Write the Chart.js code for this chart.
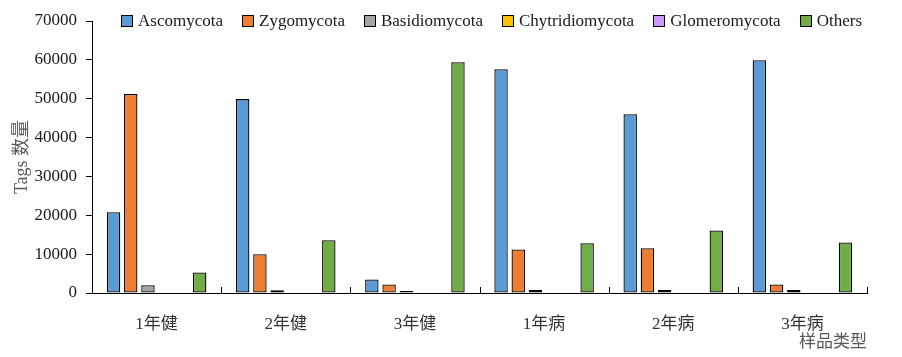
<!DOCTYPE html>
<html><head><meta charset="utf-8">
<script src="https://cdn.jsdelivr.net/npm/chart.js@4.4.1/dist/chart.umd.min.js"></script>
<style>html,body{margin:0;padding:0;background:#fff}#wrap{width:902px;height:357px;position:relative}</style>
</head><body><div id="wrap"><canvas id="c" width="902" height="357"></canvas></div>
<script>
const categories = ['1年健', '2年健', '3年健', '1年病', '2年病', '3年病'];
const seriesNames = ['Ascomycota', 'Zygomycota', 'Basidiomycota', 'Chytridiomycota', 'Glomeromycota', 'Others'];
const ascomycota = [20800, 49900, 3500, 57600, 46000, 59900];
const zygomycota = [51200, 10000, 2200, 11200, 11500, 2200];
const basidiomycota = [2000, 700, 500, 750, 750, 750];
const chytridiomycota = [0, 0, 0, 0, 0, 0];
const glomeromycota = [0, 0, 0, 0, 0, 0];
const others = [5300, 13600, 59400, 12800, 16100, 13000];
const yTickValues = [0, 10000, 20000, 30000, 40000, 50000, 60000, 70000];
const yTitle = 'Tags 数量';
const xTitle = '样品类型';

const colors = ['#5B9BD5', '#ED7D31', '#A5A5A5', '#FFC000', '#CC99FF', '#70AD47'];
const seriesValues = [ascomycota, zygomycota, basidiomycota, chytridiomycota, glomeromycota, others];
const SERIF = '"Liberation Serif", "Times New Roman", "Noto Sans CJK SC", serif';

const legendPlugin = {
  id: 'customLegend',
  afterDraw(chart) {
    const ctx = chart.ctx;
    ctx.save();
    ctx.font = '17px ' + SERIF;
    ctx.textBaseline = 'middle';
    const startX = 121, endX = 862, box = 12, gapBoxText = 5, cy = 21;
    const widths = chart.data.datasets.map(d => ctx.measureText(d.label).width);
    const n = widths.length;
    const content = widths.reduce((a, b) => a + b, 0) + n * (box + gapBoxText);
    const gap = (endX - startX - content) / (n - 1);
    let x = startX;
    chart.data.datasets.forEach((d, i) => {
      const bx = Math.round(x);
      ctx.fillStyle = d.backgroundColor;
      ctx.fillRect(bx, cy - 6, box, box);
      ctx.strokeStyle = '#000';
      ctx.lineWidth = 1;
      ctx.strokeRect(bx + 0.5, cy - 6 + 0.5, box - 1, box - 1);
      ctx.fillStyle = '#1a1a1a';
      ctx.fillText(d.label, x + box + gapBoxText, cy + 1);
      x += box + gapBoxText + widths[i] + gap;
    });
    ctx.restore();
  }
};

const xTickPlugin = {
  id: 'xInnerTicks',
  afterDatasetsDraw(chart) {
    const xs = chart.scales.x;
    const ctx = chart.ctx;
    const bottom = chart.chartArea.bottom;
    const half = (xs.getPixelForValue(1) - xs.getPixelForValue(0)) / 2;
    ctx.save();
    ctx.strokeStyle = '#000';
    ctx.lineWidth = 1;
    for (let i = 0; i < categories.length; i++) {
      const px = Math.round(xs.getPixelForValue(i) + half) + 0.5;
      ctx.beginPath();
      ctx.moveTo(px, bottom);
      ctx.lineTo(px, bottom - 6);
      ctx.stroke();
    }
    ctx.restore();
  }
};

new Chart(document.getElementById('c'), {
  type: 'bar',
  data: {
    labels: categories,
    datasets: seriesNames.map((name, i) => ({
      label: name,
      data: seriesValues[i],
      backgroundColor: colors[i],
      borderColor: '#000',
      borderWidth: 1.3,
      borderSkipped: false,
      categoryPercentage: 0.8,
      barPercentage: 0.78
    }))
  },
  options: {
    responsive: false,
    animation: false,
    layout: { padding: { left: 11, right: 35, top: 21, bottom: 4 } },
    plugins: { legend: { display: false }, tooltip: { enabled: false } },
    scales: {
      y: {
        min: 0, max: 70000,
        afterBuildTicks(scale) { scale.ticks = yTickValues.map(v => ({ value: v })); },
        afterFit(scale) { scale.width = 81; },
        ticks: { font: { family: SERIF, size: 17 }, color: '#1a1a1a', padding: 9, callback: v => String(v) },
        grid: { drawOnChartArea: false, tickLength: 6, color: '#000' },
        border: { color: '#000', width: 1 },
        title: { display: true, text: yTitle, color: '#595959', font: { family: SERIF, size: 18 }, padding: { top: 0, bottom: 0 } }
      },
      x: {
        afterFit(scale) { scale.height = 60; },
        ticks: { font: { family: SERIF, size: 17 }, color: '#333', padding: 13 },
        grid: { display: false },
        border: { color: '#000', width: 1 },
        title: { display: true, text: xTitle, align: 'end', color: '#595959', font: { family: SERIF, size: 17 }, padding: 0 }
      }
    }
  },
  plugins: [legendPlugin, xTickPlugin]
});
</script>
</body></html>
